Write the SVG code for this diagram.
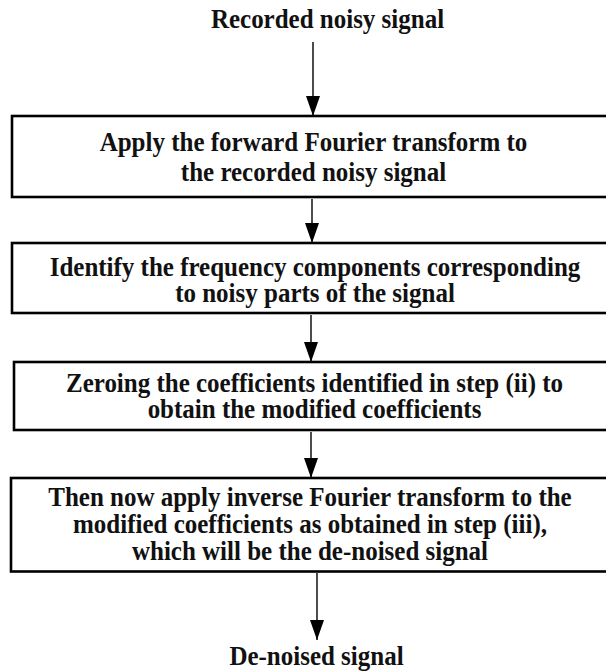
<svg xmlns="http://www.w3.org/2000/svg" width="606" height="671" viewBox="0 0 606 671">
  <style>
    .box { fill: #ffffff; stroke: #000000; stroke-width: 2.6; }
    .label { font-family: "Liberation Serif", "Times New Roman", serif; font-weight: bold; font-size: 25px; fill: #111111; text-anchor: middle; }
    .edge { stroke: #000000; stroke-width: 1.4; fill: none; marker-end: url(#head); }
  </style>
  <defs>
    <marker id="head" markerUnits="userSpaceOnUse" markerWidth="20" markerHeight="14" refX="20" refY="7" orient="auto">
      <path d="M0,0 L20,7 L0,14 Z" fill="#000000"/>
    </marker>
  </defs>
  <rect width="606" height="671" fill="#ffffff"/>

  <!-- flow connectors -->
  <g id="connectors">
    <line class="edge" x1="313" y1="42" x2="313" y2="116"/>
    <line class="edge" x1="312" y1="199" x2="312" y2="243"/>
    <line class="edge" x1="311" y1="315" x2="311" y2="362"/>
    <line class="edge" x1="311" y1="432" x2="311" y2="478"/>
    <line class="edge" x1="317" y1="573" x2="317" y2="640"/>
  </g>

  <!-- labels are drawn slightly tall: translate to the baseline, then stretch vertically -->
  <g id="input">
    <text class="label" transform="translate(327.5,28) scale(1,1.08)">Recorded noisy signal</text>
  </g>

  <g id="step1">
    <rect class="box" x="12" y="116" width="620" height="81"/>
    <text class="label" transform="translate(313.5,151) scale(1,1.08)">Apply the forward Fourier transform to</text>
    <text class="label" transform="translate(313.5,181) scale(1,1.08)">the recorded noisy signal</text>
  </g>

  <g id="step2">
    <rect class="box" x="12" y="243" width="620" height="70"/>
    <text class="label" transform="translate(315,276) scale(1,1.08)">Identify the frequency components corresponding</text>
    <text class="label" transform="translate(315,302) scale(1,1.08)">to noisy parts of the signal</text>
  </g>

  <g id="step3">
    <rect class="box" x="14" y="362" width="620" height="68"/>
    <text class="label" transform="translate(314.5,392) scale(1,1.08)">Zeroing the coefficients identified in step (ii) to</text>
    <text class="label" transform="translate(314.5,418) scale(1,1.08)">obtain the modified coefficients</text>
  </g>

  <g id="step4">
    <rect class="box" x="11" y="478" width="620" height="93.5"/>
    <text class="label" transform="translate(310,506) scale(1,1.08)">Then now apply inverse Fourier transform to the</text>
    <text class="label" transform="translate(310,533) scale(1,1.08)">modified coefficients as obtained in step (iii),</text>
    <text class="label" transform="translate(310,560) scale(1,1.08)">which will be the de-noised signal</text>
  </g>

  <g id="output">
    <text class="label" transform="translate(316.5,665) scale(1,1.08)">De-noised signal</text>
  </g>
</svg>
